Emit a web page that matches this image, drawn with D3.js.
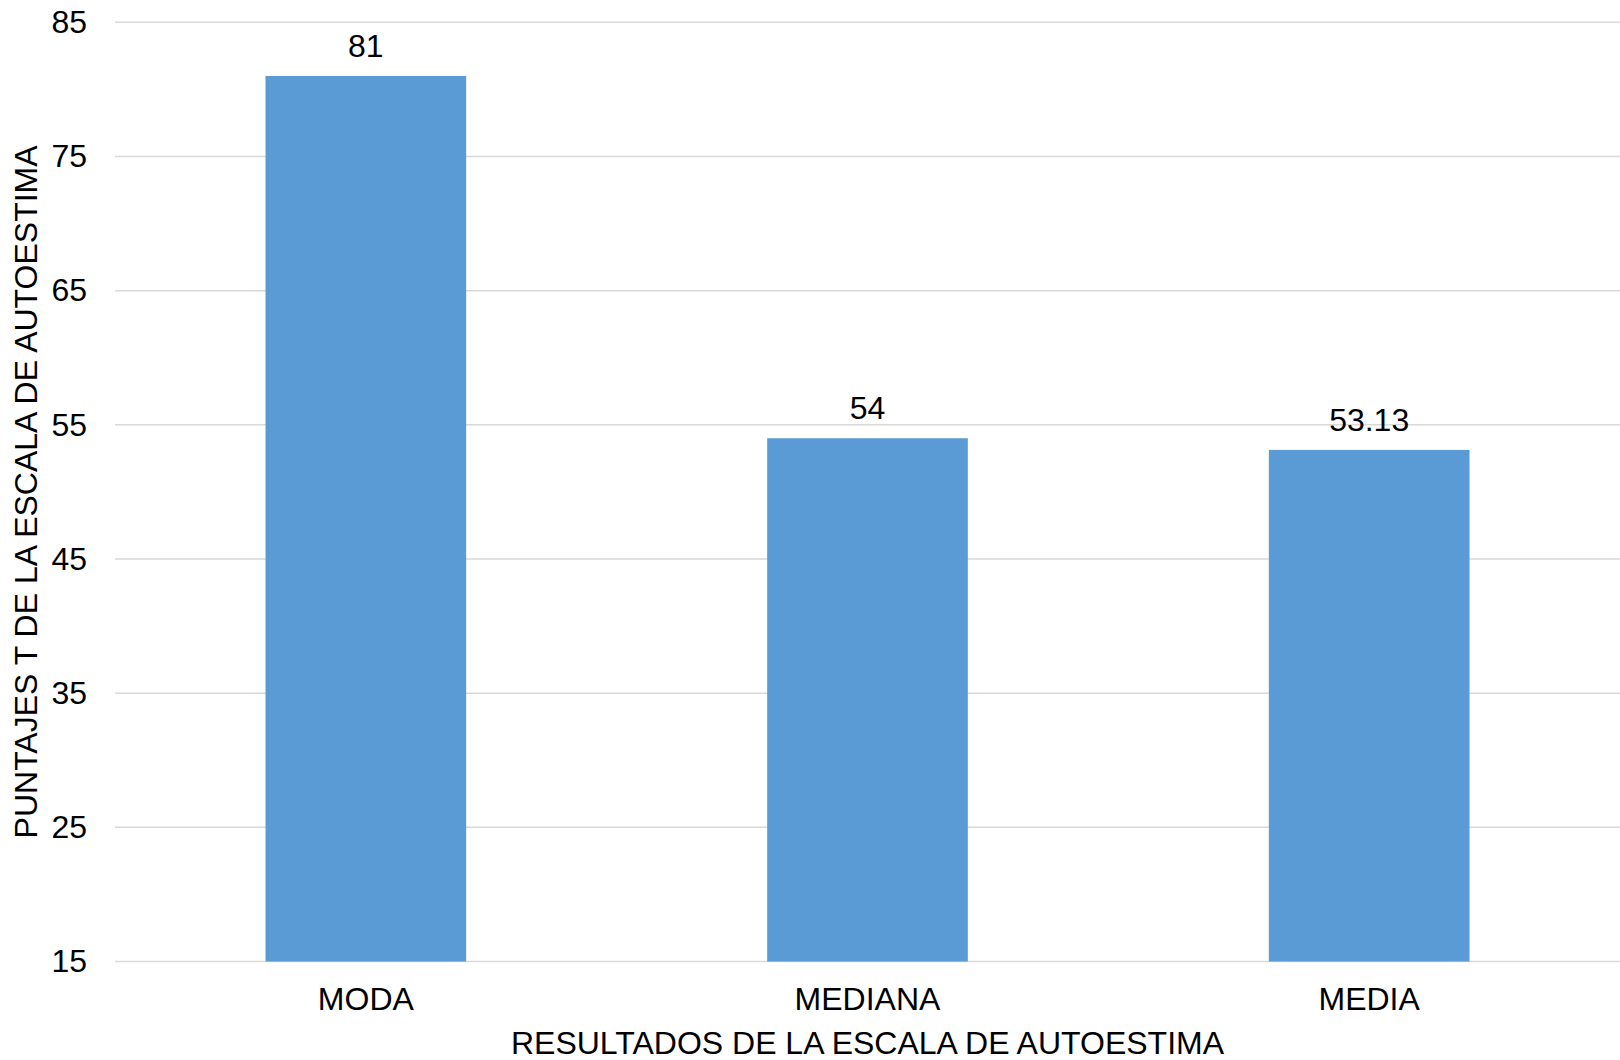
<!DOCTYPE html>
<html>
<head>
<meta charset="utf-8">
<script src="https://cdn.jsdelivr.net/npm/d3@7"></script>
<style>
  html, body { margin: 0; padding: 0; background: #fff; }
  svg { display: block; font-family: "Liberation Sans", Arial, sans-serif; }
</style>
</head>
<body>
<svg id="chart" width="1620" height="1060"></svg>
<script>
// Estadísticos de la escala de autoestima (puntajes T)
const categories = ["MODA", "MEDIANA", "MEDIA"];
const values = [81, 54, 53.13];
const valueLabels = ["81", "54", "53.13"];
const yTicks = [15, 25, 35, 45, 55, 65, 75, 85];
const yTitle = "PUNTAJES T DE LA ESCALA DE AUTOESTIMA";
const xTitle = "RESULTADOS DE LA ESCALA DE AUTOESTIMA";

const W = 1620, H = 1060;
const FS = 32;
const margin = { top: 22.3, right: 0, bottom: H - 961.5, left: 115 };

const svg = d3.select("#chart");

const x = d3.scaleBand()
  .domain(categories)
  .range([margin.left, W - margin.right])
  .paddingInner(0.6)
  .paddingOuter(0.3);

const y = d3.scaleLinear()
  .domain([15, 85])
  .range([H - margin.bottom, margin.top]);

// horizontal gridlines
svg.append("g")
  .selectAll("line")
  .data(yTicks)
  .join("line")
  .attr("x1", margin.left)
  .attr("x2", W - margin.right)
  .attr("y1", d => y(d))
  .attr("y2", d => y(d))
  .attr("stroke", "#d9d9d9")
  .attr("stroke-width", 1.5);

// y-axis tick labels
const yAxis = d3.axisLeft(y).tickValues(yTicks).tickSize(0).tickPadding(28);
svg.append("g")
  .attr("transform", `translate(${margin.left},0)`)
  .call(yAxis)
  .call(g => g.select(".domain").remove())
  .selectAll("text")
  .attr("font-size", FS)
  .attr("fill", "#000")
  .attr("font-family", "Liberation Sans, Arial, sans-serif");

// bars
svg.append("g")
  .selectAll("rect")
  .data(categories)
  .join("rect")
  .attr("x", d => x(d))
  .attr("width", x.bandwidth())
  .attr("y", (d, i) => y(values[i]))
  .attr("height", (d, i) => y(15) - y(values[i]))
  .attr("fill", "#5b9bd5");

// value labels
svg.append("g")
  .selectAll("text")
  .data(categories)
  .join("text")
  .attr("x", d => x(d) + x.bandwidth() / 2)
  .attr("y", (d, i) => y(values[i]) - 19)
  .attr("text-anchor", "middle")
  .attr("font-size", FS)
  .attr("fill", "#000")
  .text((d, i) => valueLabels[i]);

// x-axis category labels
const xAxis = d3.axisBottom(x).tickSize(0).tickPadding(0);
svg.append("g")
  .attr("transform", `translate(0,${H - margin.bottom})`)
  .call(xAxis)
  .call(g => g.select(".domain").remove())
  .selectAll("text")
  .attr("dy", null)
  .attr("y", 48.5)
  .attr("font-size", FS)
  .attr("fill", "#000")
  .attr("font-family", "Liberation Sans, Arial, sans-serif");

// axis titles
svg.append("text")
  .attr("x", (margin.left + W - margin.right) / 2)
  .attr("y", 1054)
  .attr("text-anchor", "middle")
  .attr("font-size", FS)
  .attr("fill", "#000")
  .text(xTitle);

svg.append("text")
  .attr("transform", `translate(37,${(margin.top + H - margin.bottom) / 2}) rotate(-90)`)
  .attr("text-anchor", "middle")
  .attr("font-size", FS)
  .attr("fill", "#000")
  .text(yTitle);
</script>
</body>
</html>
